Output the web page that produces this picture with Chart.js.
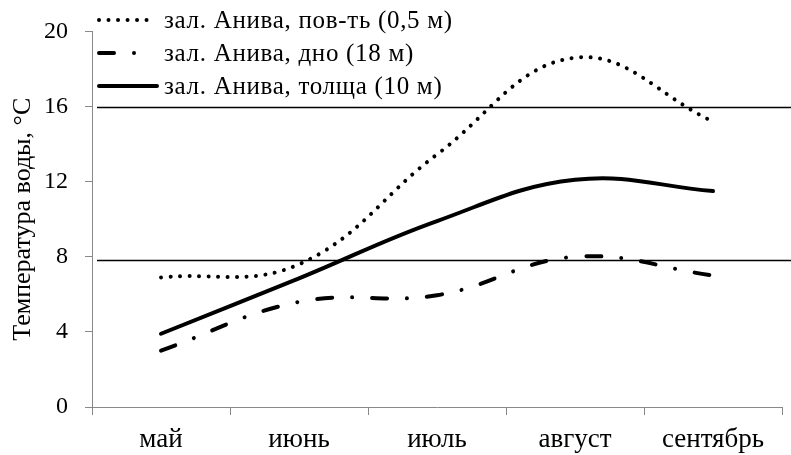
<!DOCTYPE html>
<html>
<head>
<meta charset="utf-8">
<script src="https://cdn.jsdelivr.net/npm/chart.js@4.4.0/dist/chart.umd.min.js"></script>
<style>
  html, body { margin: 0; padding: 0; background: #fff; }
  #wrap { position: relative; width: 791px; height: 455px; }
  #legend { position: absolute; left: 97px; top: 3px; font-family: "Liberation Serif", "Times New Roman", serif; font-size: 25px; letter-spacing: 0.7px; color: #000; }
  .row { display: flex; align-items: center; height: 33px; white-space: nowrap; }
  .row svg { width: 62px; height: 20px; margin-right: 5px; flex: none; }
</style>
</head>
<body>
<div id="wrap">
  <canvas id="c" width="791" height="455"></canvas>
  <div id="legend"></div>
</div>
<script>
const categories = ["май", "июнь", "июль", "август", "сентябрь"];
const surface = [6.9, 7.6, 13.45, 18.6, 15.2];   // пов-ть 0,5 м
const bottom  = [3.0, 5.6, 5.95, 8.0, 7.0];      // дно 18 м
const middle  = [3.9, 6.85, 9.9, 12.1, 11.5];    // толща 10 м
const seriesNames = ["зал. Анива, пов-ть (0,5 м)", "зал. Анива, дно (18 м)", "зал. Анива, толща (10 м)"];
const refLines = [16, 7.85];
const yTicks = [0, 4, 8, 12, 16, 20];

const FONT = "'Liberation Serif', 'Times New Roman', serif";

const dashes = [[0.01, 9.5], [15, 20, 0.01, 20], []];

const refLinePlugin = {
  id: 'refLines',
  beforeDatasetsDraw(chart) {
    const { ctx, chartArea, scales } = chart;
    ctx.save();
    ctx.strokeStyle = '#000';
    ctx.lineWidth = 1.4;
    refLines.forEach(v => {
      const y = Math.round(scales.y.getPixelForValue(v)) + 0.5;
      ctx.beginPath();
      ctx.moveTo(chartArea.left + 5, y);
      ctx.lineTo(chart.width, y);
      ctx.stroke();
    });
    ctx.restore();
  }
};

const dataSets = [surface, bottom, middle].map((d, i) => ({
  label: seriesNames[i],
  data: d,
  borderColor: '#000',
  backgroundColor: '#000',
  borderWidth: 4,
  borderDash: dashes[i],
  borderCapStyle: 'round',
  pointRadius: 0,
  tension: 0.4,
  fill: false
}));

new Chart(document.getElementById('c'), {
  type: 'line',
  data: { labels: categories, datasets: dataSets },
  plugins: [refLinePlugin],
  options: {
    responsive: false,
    animation: false,
    layout: { padding: { top: 29, right: 9, left: 0, bottom: 0 } },
    plugins: { legend: { display: false }, tooltip: { enabled: false } },
    scales: {
      x: {
        offset: true,
        grid: { offset: true, drawOnChartArea: false, tickColor: '#888', tickLength: 8 },
        border: { color: '#888', width: 1 },
        ticks: { color: '#000', font: { family: FONT, size: 27 }, padding: 9, maxRotation: 0, autoSkip: false },
        afterFit(s) { s.height = 48; }
      },
      y: {
        min: 0, max: 20,
        afterBuildTicks(s) { s.ticks = yTicks.map(v => ({ value: v })); },
        grid: { drawOnChartArea: false, tickColor: '#888', tickLength: 7 },
        border: { color: '#888', width: 1 },
        ticks: { color: '#000', font: { family: FONT, size: 24 }, padding: 17 },
        title: { display: true, text: 'Температура воды, °C', color: '#000', font: { family: FONT, size: 26 }, padding: { top: 8, bottom: 0 } },
        afterFit(s) { s.width = 92; }
      }
    }
  }
});

// HTML legend
const leg = document.getElementById('legend');
seriesNames.forEach((name, i) => {
  const row = document.createElement('div');
  row.className = 'row';
  const da = dashes[i].length ? `stroke-dasharray="${dashes[i].join(' ')}"` : '';
  const x2 = i === 1 ? 40 : (i === 0 ? 57 : 60);
  row.innerHTML = `<svg viewBox="0 0 62 20"><line x1="2" y1="10" x2="${x2}" y2="10" stroke="#000" stroke-width="4" stroke-linecap="round" ${da}/></svg><span>${name}</span>`;
  leg.appendChild(row);
});
</script>
</body>
</html>
